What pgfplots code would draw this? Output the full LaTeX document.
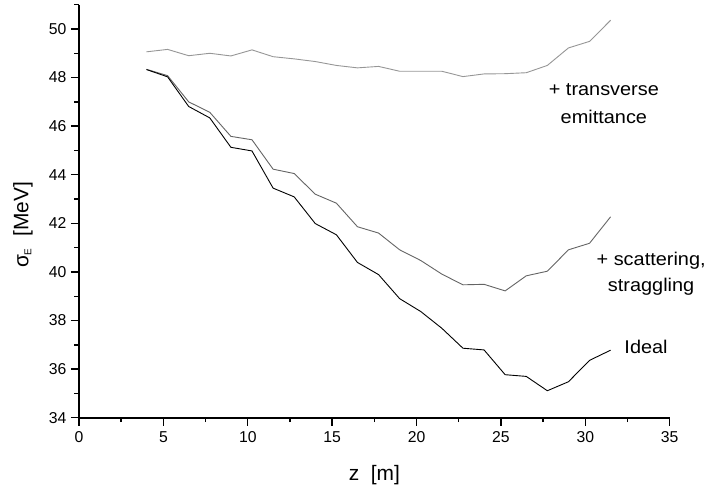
\documentclass[border=0pt]{standalone}
\usepackage{pgfplots}
\pgfplotsset{compat=1.18}
\usepackage{fontspec}
\setmainfont{Liberation Sans}
\newfontfamily\annfont[FakeStretch=1.08]{Liberation Sans}
\pgfplotstableread{
x     top    mid    ideal
4     49.06  48.34  48.33
5.25  49.16  48.08  48.03
6.5   48.90  47.00  46.81
7.75  49.00  46.57  46.34
9     48.89  45.58  45.13
10.25 49.14  45.44  44.98
11.5  48.86  44.23  43.45
12.75 48.77  44.05  43.09
14    48.66  43.20  41.99
15.25 48.50  42.83  41.53
16.5  48.40  41.86  40.39
17.75 48.46  41.60  39.89
19    48.26  40.91  38.90
20.25 48.26  40.47  38.37
21.5  48.26  39.91  37.68
22.75 48.04  39.47  36.86
24    48.15  39.49  36.79
25.25 48.16  39.22  35.77
26.5  48.20  39.84  35.70
27.75 48.50  40.03  35.11
29    49.22  40.91  35.48
30.25 49.49  41.18  36.36
31.5  50.36  42.27  36.78
}\datatable
\definecolor{lgray}{RGB}{150,150,150}
\definecolor{mgray}{RGB}{100,100,100}
\begin{document}
\begin{tikzpicture}
\path[use as bounding box] (-79bp,-69.3bp) rectangle (633bp,417.7bp);
\begin{axis}[
  at={(0,0)}, anchor=south west,
  scale only axis, width=590.7bp, height=413bp,
  xmin=0, xmax=35, ymin=34, ymax=51,
  axis x line*=bottom, axis y line*=left,
  xtick={0,5,...,35}, minor xtick={2.5,7.5,...,32.5},
  ytick={34,36,...,50}, minor ytick={35,37,...,51},
  tick align=outside,
  major tick length=8bp, minor tick length=4.5bp,
  tick style={black, line width=1.4bp},
  axis line style={black, line width=1.9bp},
  /pgf/number format/assume math mode=true,
  ticklabel style={font=\fontsize{15.8}{15.8}\selectfont},
  yticklabel style={xshift=-1bp},
  xticklabel style={yshift=-2bp},
  xlabel={z\ \ [m]},
  ylabel={σ\textsubscript{\fontsize{10}{10}\selectfont E}\ \ [MeV]},
  label style={font=\fontsize{21}{21}\selectfont},
  xlabel style={at={(axis description cs:0.5,0)}, anchor=center, yshift=-57.5bp},
  ylabel style={at={(axis description cs:-0.095,0.467)}, anchor=center},
  clip=false,
]
\addplot[lgray, line width=0.9bp] table[x=x, y=top] {\datatable};
\addplot[mgray, line width=0.9bp] table[x=x, y=mid] {\datatable};
\addplot[black, line width=0.9bp] table[x=x, y=ideal] {\datatable};
\node[align=center, font=\annfont\fontsize{18.5}{27.7}\selectfont] at (axis cs:31.1,46.93) {+ transverse\\emittance};
\node[align=center, font=\annfont\fontsize{18.5}{26}\selectfont] at (axis cs:33.9,39.93) {+ scattering,\\straggling};
\node[align=center, font=\annfont\fontsize{18.5}{26}\selectfont] at (axis cs:33.6,36.9) {Ideal};
\end{axis}
\end{tikzpicture}
\end{document}
